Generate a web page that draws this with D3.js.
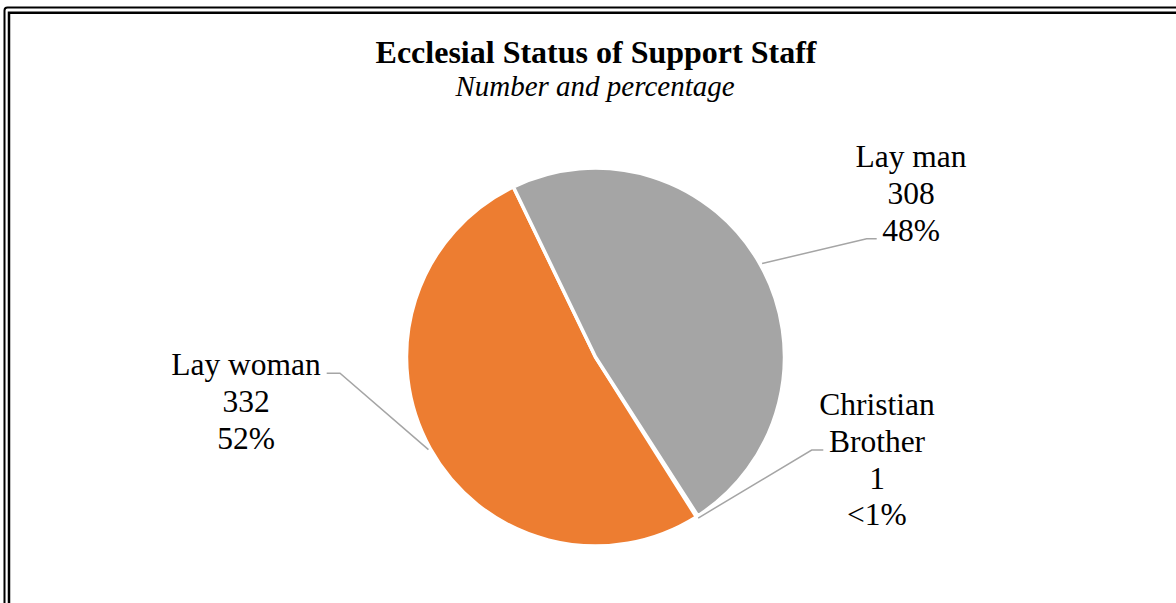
<!DOCTYPE html>
<html>
<head>
<meta charset="utf-8">
<script src="https://cdn.jsdelivr.net/npm/d3@7"></script>
<style>
  html, body { margin: 0; padding: 0; background: #fff; }
  svg { display: block; }
  text { font-family: "Times New Roman", "Liberation Serif", serif; fill: #000; }
</style>
</head>
<body>
<svg id="chart" width="1176" height="603"></svg>
<script>
// ---- Data ----
const categories = ["Christian Brother", "Lay woman", "Lay man"];
const counts = [1, 332, 308];
const percentLabels = ["<1%", "52%", "48%"];
const labelLines = [["Christian", "Brother"], ["Lay woman"], ["Lay man"]];
const colors = ["#4472C4", "#ED7D31", "#A5A5A5"];

// ---- Layout ----
const W = 1176, H = 603;
const cx = 595.5, cy = 357, R = 189;
const startDeg = 147.2;
// label layout: text center x, first baseline y, elbow point, horizontal end x
const labelLayout = [
  { tx: 877, ty: 415, elbow: [811.7, 450], hx: 823.3 },
  { tx: 246, ty: 375, elbow: [340, 373.3], hx: 326.7 },
  { tx: 911, ty: 167, elbow: [866.7, 238.7], hx: 876.7 }
];
const lineH = 36.8;

const svg = d3.select("#chart");

// Frame (double border)
svg.append("rect").attr("x", 4.5).attr("y", 7.5).attr("width", W + 20).attr("height", H + 20)
  .attr("rx", 3).attr("fill", "none").attr("stroke", "#000").attr("stroke-width", 2);
svg.append("rect").attr("x", 9).attr("y", 12.75).attr("width", W + 20).attr("height", H + 20)
  .attr("fill", "none").attr("stroke", "#000").attr("stroke-width", 2.5);

// Title
svg.append("text").attr("x", 596).attr("y", 63).attr("text-anchor", "middle")
  .attr("font-size", 32).attr("font-weight", "bold").text("Ecclesial Status of Support Staff");
svg.append("text").attr("x", 595).attr("y", 96).attr("text-anchor", "middle")
  .attr("font-size", 29).attr("font-style", "italic").text("Number and percentage");

// Pie
const rad = d => d * Math.PI / 180;
const pie = d3.pie().sort(null).value(d => d)
  .startAngle(rad(startDeg)).endAngle(rad(startDeg + 360));
const arcs = pie(counts);
const arc = d3.arc().innerRadius(0).outerRadius(R);

const g = svg.append("g").attr("transform", `translate(${cx},${cy})`);
g.selectAll("path.slice").data(arcs).enter().append("path")
  .attr("class", "slice")
  .attr("d", arc)
  .attr("fill", (d, i) => colors[i])
  .attr("stroke", "#fff").attr("stroke-width", 3.5).attr("stroke-linejoin", "round");

// Leader lines
const edgeArc = d3.arc().innerRadius(R + 2).outerRadius(R + 2);
arcs.forEach((d, i) => {
  const c = edgeArc.centroid(d);
  const p0 = [cx + c[0], cy + c[1]];
  const L = labelLayout[i];
  svg.append("polyline")
    .attr("points", [p0, L.elbow, [L.hx, L.elbow[1]]].map(p => p.join(",")).join(" "))
    .attr("fill", "none").attr("stroke", "#A5A5A5").attr("stroke-width", 1.5);
});

// Labels
arcs.forEach((d, i) => {
  const L = labelLayout[i];
  const lines = labelLines[i].concat([String(counts[i]), percentLabels[i]]);
  const t = svg.append("text").attr("text-anchor", "middle").attr("font-size", 31.5);
  lines.forEach((s, k) => {
    t.append("tspan").attr("x", L.tx).attr("y", L.ty + k * lineH).text(s);
  });
});
</script>
</body>
</html>
